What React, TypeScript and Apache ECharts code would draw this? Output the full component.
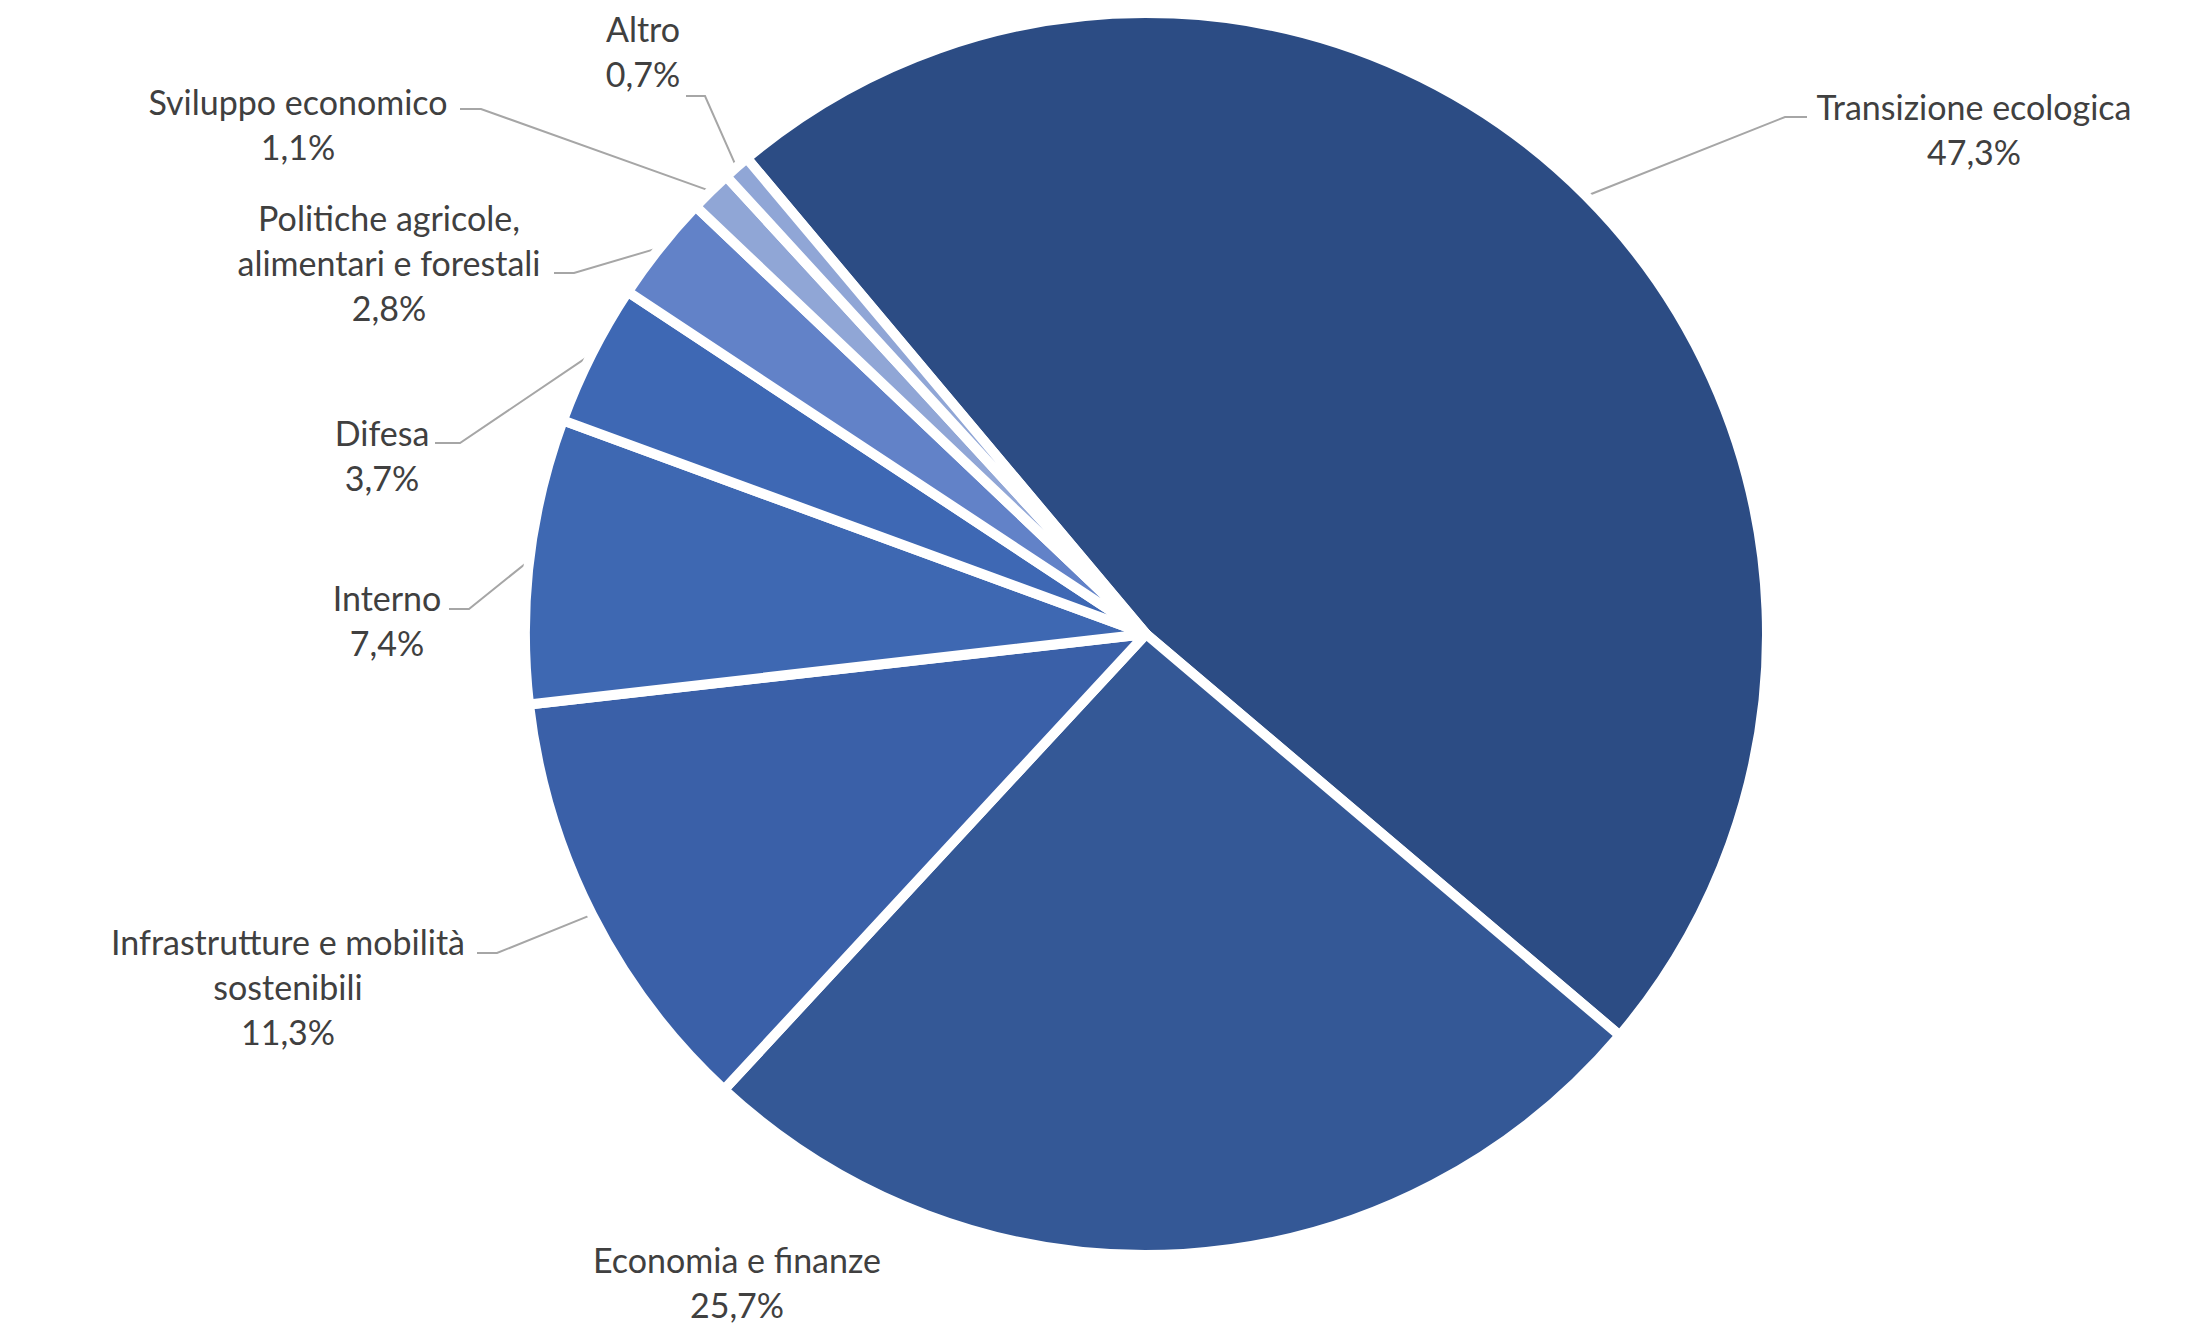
import React, { useEffect, useRef } from "react";
import * as echarts from "echarts";

const categories = [
  "Transizione ecologica",
  "Economia e finanze",
  "Infrastrutture e mobilità\nsostenibili",
  "Interno",
  "Difesa",
  "Politiche agricole,\nalimentari e forestali",
  "Sviluppo economico",
  "Altro",
];
const values = [47.3, 25.7, 11.3, 7.4, 3.7, 2.8, 1.1, 0.7];
const colors = ["#2C4C84", "#345896", "#3A60A8", "#3E68B2", "#3E68B4", "#6282C8", "#90A6D6", "#90A6D6"];

// label block centres and leader-line elbow/end points (layout only)
const labelCenters: [number, number][] = [
  [1974, 129], [737, 1282], [288, 986], [387, 620], [382, 455], [389, 262], [298, 124], [643, 51],
];
const leaderElbows: ([number, number] | null)[] = [
  [1785, 117], null, [497, 953], [469, 609], [460, 443], [574, 273], [481, 109], [705, 96],
];
const leaderEnds: ([number, number] | null)[] = [
  [1807, 117], null, [477, 953], [449, 609], [435, 443], [554, 273], [460, 109], [686, 96],
];

const BORDER = 10;

export default function App() {
  const ref = useRef<HTMLDivElement>(null);
  useEffect(() => {
    if (!ref.current) return;
    const chart = echarts.init(ref.current, null, { renderer: "svg" });
    chart.setOption({
      animation: false,
      backgroundColor: "#ffffff",
      series: [
        {
          type: "pie",
          center: [1146, 634],
          radius: [0, 616 + BORDER / 2],
          startAngle: 130,
          clockwise: true,
          avoidLabelOverlap: false,
          itemStyle: { borderColor: "#ffffff", borderWidth: BORDER },
          label: {
            show: true,
            position: "outside",
            color: "#404040",
            fontFamily: "Lato",
            fontSize: 34,
            lineHeight: 45,
            align: "center",
            formatter: (p: any) => `${p.name}\n${p.value.toFixed(1).replace(".", ",")}%`,
          },
          labelLine: {
            show: true,
            length: 20,
            length2: 20,
            lineStyle: { color: "#A6A6A6", width: 2 },
          },
          labelLayout: (params: any) => {
            const i = params.dataIndex;
            const c = labelCenters[i];
            const el = leaderElbows[i];
            const en = leaderEnds[i];
            const pts = params.labelLinePoints;
            const res: any = { x: c[0], y: c[1], align: "center", verticalAlign: "middle" };
            if (pts && el && en) {
              res.labelLinePoints = [pts[0], el, en];
            }
            return res;
          },
          data: categories.map((name, i) => ({
            name,
            value: values[i],
            itemStyle: { color: colors[i] },
            labelLine: { show: leaderElbows[i] !== null },
          })),
        },
      ],
    });
    return () => chart.dispose();
  }, []);
  return (
    <div
      ref={ref}
      style={{ position: "fixed", left: 0, top: 0, width: "2207px", height: "1334px" }}
    />
  );
}
